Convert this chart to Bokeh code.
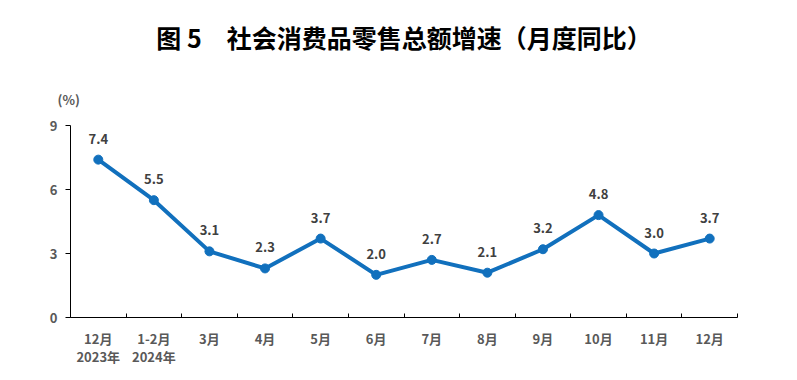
from bokeh.plotting import figure
from bokeh.models import FixedTicker, Range1d, Title, ColumnDataSource
from bokeh.embed import file_html
from bokeh.resources import INLINE
from bokeh.core.properties import value

categories = ["12月\n2023年", "1-2月\n2024年", "3月", "4月", "5月", "6月", "7月", "8月", "9月", "10月", "11月", "12月"]
growth = [7.4, 5.5, 3.1, 2.3, 3.7, 2.0, 2.7, 2.1, 3.2, 4.8, 3.0, 3.7]
growth_labels = ["7.4", "5.5", "3.1", "2.3", "3.7", "2.0", "2.7", "2.1", "3.2", "4.8", "3.0", "3.7"]
y_ticks = [0, 3, 6, 9]
title_text = "图 5　社会消费品零售总额增速（月度同比）"
unit_text = "(%)"

xs = [i + 0.5 for i in range(len(categories))]
src = ColumnDataSource(dict(x=xs, y=growth, lab=growth_labels))

FONT = "Noto Sans CJK SC"

p = figure(width=797, height=380, output_backend="svg", toolbar_location=None,
           x_range=Range1d(0, len(categories)), y_range=Range1d(0, 9),
           min_border_left=70, min_border_right=60, min_border_top=125, min_border_bottom=63)
p.outline_line_color = None
p.grid.grid_line_color = None
p.background_fill_color = "white"
p.border_fill_color = "white"

p.line("x", "y", source=src, line_color="#1170bd", line_width=4)
p.scatter("x", "y", source=src, size=9, fill_color="#1170bd", line_color="#1170bd")
p.text("x", "y", text="lab", source=src, text_align="center", text_baseline="middle",
       y_offset=-21, text_font=value(FONT), text_font_style="bold",
       text_font_size="13px", text_color="#404040")

# x axis
xa = p.xaxis[0]
xa.ticker = FixedTicker(ticks=xs, minor_ticks=list(range(len(categories) + 1)))
xa.major_label_overrides = {x: c for x, c in zip(xs, categories)}
xa.major_tick_in = 0
xa.major_tick_out = 0
xa.minor_tick_in = 4
xa.minor_tick_out = 0
xa.minor_tick_line_color = "black"
xa.axis_line_color = "black"
xa.major_label_standoff = 11
xa.major_label_text_font = FONT
xa.major_label_text_font_style = "bold"
xa.major_label_text_font_size = "13px"
xa.major_label_text_line_height = 0.95
xa.major_label_text_color = "#595959"

ya = p.yaxis[0]
ya.ticker = FixedTicker(ticks=y_ticks)
ya.major_tick_in = 0
ya.major_tick_out = 5
ya.minor_tick_line_color = None
ya.axis_line_color = "black"
ya.major_tick_line_color = "black"
ya.major_label_standoff = 8
ya.major_label_text_font = FONT
ya.major_label_text_font_style = "bold"
ya.major_label_text_font_size = "13px"
ya.major_label_text_color = "#595959"

p.add_layout(Title(text=unit_text, align="left", offset=-13, standoff=33,
                   text_font=FONT, text_font_style="bold", text_font_size="13px",
                   text_color="#595959"), "above")
p.add_layout(Title(text=title_text, align="center", offset=-3.5, standoff=33,
                   text_font=FONT, text_font_style="bold", text_font_size="25px",
                   text_color="#000000"), "above")

open("out.html", "w").write(file_html(p, INLINE))
